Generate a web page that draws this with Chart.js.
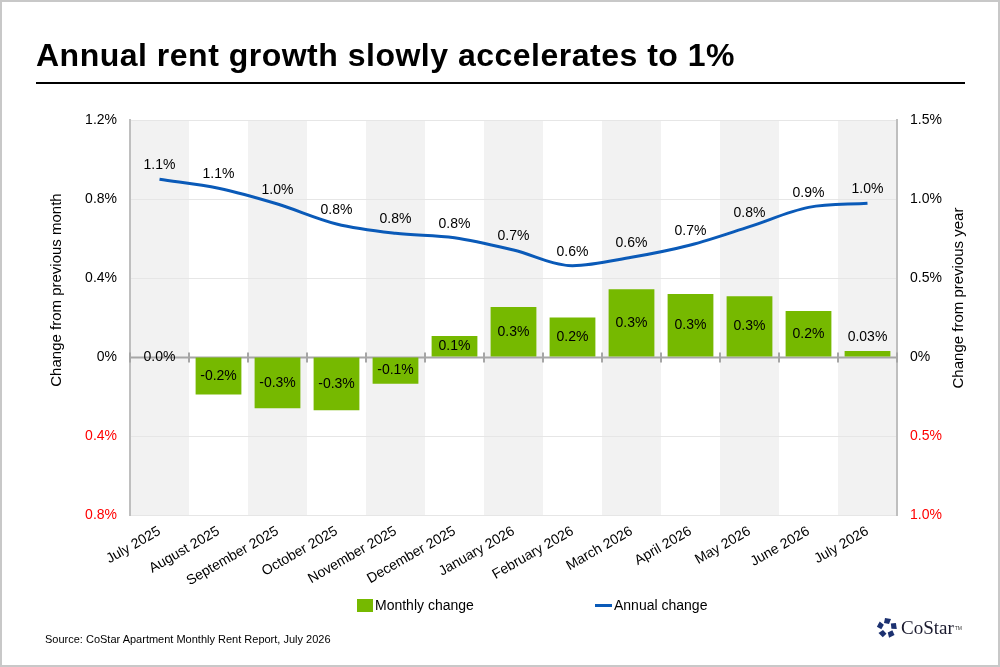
<!DOCTYPE html>
<html>
<head>
<meta charset="utf-8">
<script src="https://cdn.jsdelivr.net/npm/chart.js@4/dist/chart.umd.min.js"></script>
<style>
  html, body { margin: 0; padding: 0; background: #fff; }
  #wrap { position: relative; width: 1000px; height: 667px; overflow: hidden; font-family: "Liberation Sans", Arial, sans-serif; }
  #frame { position: absolute; left: 0; top: 0; width: 996px; height: 663px; border: 2px solid #c8c8c8; pointer-events: none; }
  #title { position: absolute; left: 36px; top: 37px; font-size: 32px; letter-spacing: 0.5px; font-weight: bold; color: #000; white-space: nowrap; }
  #rule { position: absolute; left: 36px; top: 82px; width: 929px; height: 2px; background: #000; }
  #legend { position: absolute; top: 595px; left: 0; width: 1000px; height: 20px; font-size: 14px; color: #000; }
  .item { position: absolute; top: 0; display: flex; align-items: center; height: 20px; white-space: nowrap; }
  .swatch { display: inline-block; margin-right: 2px; }
  #source { position: absolute; left: 45px; top: 633px; font-size: 11px; color: #000; white-space: nowrap; }
  #logo { position: absolute; left: 876px; top: 617px; display: flex; align-items: center; }
  #logo span.name { font-family: "Liberation Serif", "DejaVu Serif", serif; font-size: 19px; color: #1a1a2e; margin-left: 3px; }
  #logo span.tm { font-size: 5px; color: #333; vertical-align: top; margin-left: 1px; }
  canvas { position: absolute; left: 0; top: 0; }
</style>
</head>
<body>
<div id="wrap">
  <canvas id="chart" width="1000" height="667"></canvas>
  <div id="title">Annual rent growth slowly accelerates to 1%</div>
  <div id="rule"></div>
  <div id="legend"></div>
  <div id="source">Source: CoStar Apartment Monthly Rent Report, July 2026</div>
  <div id="logo">
    <svg width="22" height="22" viewBox="-11 -11 22 22">
      <g fill="#1c3170">
        <path d="M-2,-10 L4,-9 L2,-4 L-3,-5 Z"/>
        <path d="M-2,-10 L4,-9 L2,-4 L-3,-5 Z" transform="rotate(72)"/>
        <path d="M-2,-10 L4,-9 L2,-4 L-3,-5 Z" transform="rotate(144)"/>
        <path d="M-2,-10 L4,-9 L2,-4 L-3,-5 Z" transform="rotate(216)"/>
        <path d="M-2,-10 L4,-9 L2,-4 L-3,-5 Z" transform="rotate(288)"/>
      </g>
    </svg>
    <span class="name">CoStar</span><span class="tm">TM</span>
  </div>
  <div id="frame"></div>
</div>
<script>
const months = ['July 2025', 'August 2025', 'September 2025', 'October 2025', 'November 2025',
  'December 2025', 'January 2026', 'February 2026', 'March 2026', 'April 2026', 'May 2026',
  'June 2026', 'July 2026'];
// change from previous month (%), left axis
const monthlyChange = [0.0, -0.19, -0.26, -0.27, -0.135, 0.106, 0.253, 0.20, 0.343, 0.319, 0.307, 0.233, 0.03];
// change from previous year (%), right axis
const annualChange = [1.125, 1.068, 0.968, 0.842, 0.783, 0.755, 0.677, 0.578, 0.631, 0.709, 0.825, 0.947, 0.973];
const leftTicks = [-0.8, -0.4, 0, 0.4, 0.8, 1.2];
const rightTicks = [-1.0, -0.5, 0, 0.5, 1.0, 1.5];
const leftTitle = 'Change from previous month';
const rightTitle = 'Change from previous year';

const GREEN = '#76b900';
const BLUE = '#0a5ab8';
const FONT = "'Liberation Sans', Arial, sans-serif";

function pct(v, digits) {
  if (Math.abs(v) < 1e-9) return '0%';
  return Math.abs(v).toFixed(digits) + '%';
}

// alternating grey columns, zero line with category ticks, axis titles
const backdrop = {
  id: 'backdrop',
  beforeDraw(chart) {
    const { ctx, chartArea: a, scales: { x } } = chart;
    const w = x.width / months.length;
    ctx.save();
    ctx.fillStyle = '#f2f2f2';
    months.forEach((m, i) => {
      if (i % 2 === 0) ctx.fillRect(x.getPixelForValue(i) - w / 2, a.top, w, a.bottom - a.top);
    });
    ctx.restore();
  },
  beforeDatasetsDraw(chart) {
    const { ctx, chartArea: a, scales: { x, y } } = chart;
    const y0 = Math.round(y.getPixelForValue(0)) + 0.5;
    const w = x.width / months.length;
    ctx.save();
    ctx.strokeStyle = '#a6a6a6';
    ctx.lineWidth = 2;
    ctx.beginPath();
    ctx.moveTo(a.left, y0);
    ctx.lineTo(a.right, y0);
    for (let i = 0; i <= months.length; i++) {
      const px = Math.round(a.left + i * w);
      ctx.moveTo(px, y0 - 5);
      ctx.lineTo(px, y0 + 5);
    }
    ctx.stroke();
    ctx.restore();
  },
  afterDraw(chart) {
    const { ctx } = chart;
    ctx.save();
    ctx.font = '15px ' + FONT;
    ctx.fillStyle = '#000';
    ctx.textAlign = 'center';
    ctx.textBaseline = 'middle';
    ctx.translate(57, 290);
    ctx.rotate(-Math.PI / 2);
    ctx.fillText(leftTitle, 0, 0);
    ctx.restore();
    ctx.save();
    ctx.font = '15px ' + FONT;
    ctx.fillStyle = '#000';
    ctx.textAlign = 'center';
    ctx.textBaseline = 'middle';
    ctx.translate(959, 298);
    ctx.rotate(-Math.PI / 2);
    ctx.fillText(rightTitle, 0, 0);
    ctx.restore();
  }
};

// value labels
const valueLabels = {
  id: 'valueLabels',
  afterDatasetsDraw(chart) {
    const { ctx } = chart;
    ctx.save();
    ctx.font = '14px ' + FONT;
    ctx.fillStyle = '#000';
    ctx.textAlign = 'center';
    ctx.textBaseline = 'middle';
    chart.getDatasetMeta(0).data.forEach((bar, i) => {
      const v = monthlyChange[i];
      const txt = (Math.abs(v) > 0 && Math.abs(v) < 0.05) ? v.toFixed(2) + '%' : v.toFixed(1) + '%';
      const h = Math.abs(bar.base - bar.y);
      let ly = (bar.y + bar.base) / 2;
      if (h > 1 && h < 15) ly = Math.min(bar.y, bar.base) - 14;
      ctx.fillText(txt, bar.x, ly);
    });
    chart.getDatasetMeta(1).data.forEach((pt, i) => {
      ctx.fillText(annualChange[i].toFixed(1) + '%', pt.x, pt.y - 14);
    });
    ctx.restore();
  }
};

const chart = new Chart(document.getElementById('chart').getContext('2d'), {
  type: 'bar',
  data: {
    labels: months,
    datasets: [{
      type: 'bar',
      label: 'Monthly change',
      data: monthlyChange,
      backgroundColor: GREEN,
      yAxisID: 'y',
      barPercentage: 0.8,
      categoryPercentage: 0.97,
      order: 1
    }, {
      type: 'line',
      label: 'Annual change',
      data: annualChange,
      borderColor: BLUE,
      backgroundColor: BLUE,
      borderWidth: 3,
      pointRadius: 0,
      cubicInterpolationMode: 'monotone',
      yAxisID: 'y1',
      order: 0
    }]
  },
  options: {
    responsive: false,
    devicePixelRatio: 1,
    animation: false,
    layout: { padding: { top: 120, left: 45, right: 33, bottom: 72 } },
    plugins: { legend: { display: false }, tooltip: { enabled: false } },
    scales: {
      x: {
        grid: { display: false },
        border: { display: false },
        ticks: { color: '#000', font: { family: FONT, size: 14 }, maxRotation: 30, minRotation: 30, padding: 0 },
        afterFit(s) { s.height = 80; }
      },
      y: {
        position: 'left',
        min: -0.8, max: 1.2,
        afterBuildTicks(s) { s.ticks = leftTicks.map(v => ({ value: v })); },
        grid: { color: '#e6e6e6', drawTicks: false },
        border: { display: true, color: '#bfbfbf', width: 2 },
        ticks: {
          padding: 13,
          color: c => c.tick.value < 0 ? '#ff0000' : '#000',
          font: { family: FONT, size: 14 },
          callback: v => pct(v, 1)
        },
        afterFit(s) { s.width = 85; }
      },
      y1: {
        position: 'right',
        min: -1.0, max: 1.5,
        afterBuildTicks(s) { s.ticks = rightTicks.map(v => ({ value: v })); },
        grid: { drawOnChartArea: false, drawTicks: false },
        border: { display: true, color: '#bfbfbf', width: 2 },
        ticks: {
          padding: 13,
          color: c => c.tick.value < 0 ? '#ff0000' : '#000',
          font: { family: FONT, size: 14 },
          callback: v => pct(v, 1)
        },
        afterFit(s) { s.width = 70; }
      }
    }
  },
  plugins: [backdrop, valueLabels]
});

// legend built from the datasets
const legendEl = document.getElementById('legend');
const legendX = [357, 595];
chart.data.datasets.forEach((ds, i) => {
  const item = document.createElement('div');
  item.className = 'item';
  item.style.left = legendX[i] + 'px';
  const sw = document.createElement('span');
  sw.className = 'swatch';
  if (ds.type === 'bar') {
    sw.style.width = '16px'; sw.style.height = '13px'; sw.style.background = ds.backgroundColor;
  } else {
    sw.style.width = '17px'; sw.style.height = '3px'; sw.style.background = ds.borderColor;
  }
  item.appendChild(sw);
  item.appendChild(document.createTextNode(ds.label));
  legendEl.appendChild(item);
});
</script>
</body>
</html>
